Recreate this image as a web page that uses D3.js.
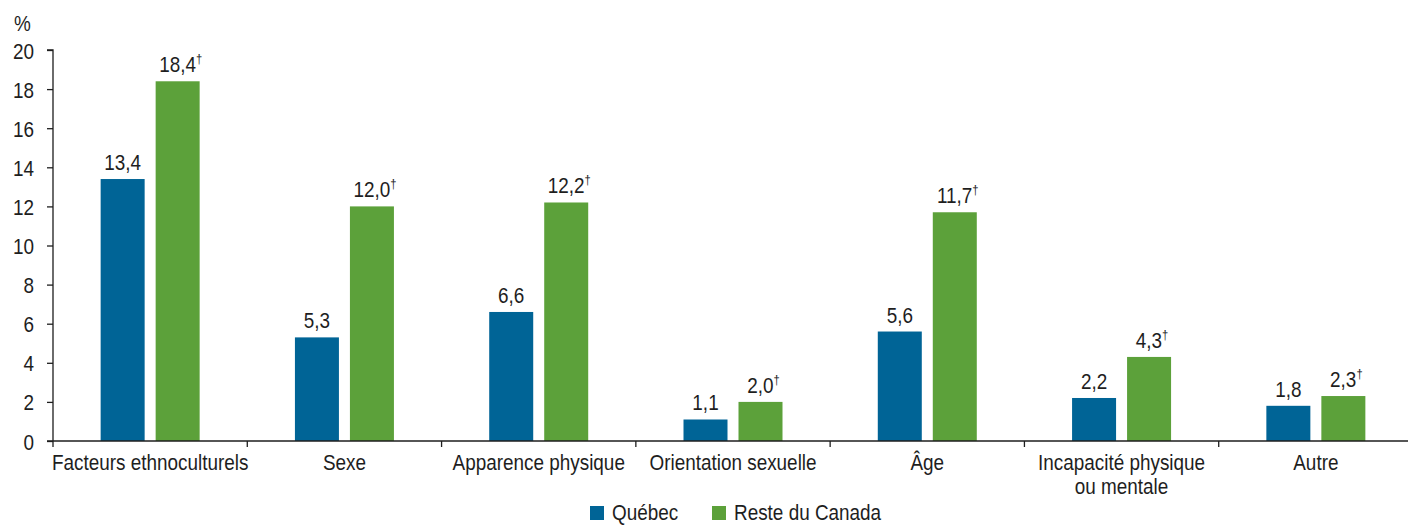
<!DOCTYPE html>
<html>
<head>
<meta charset="utf-8">
<script src="https://cdn.jsdelivr.net/npm/d3@7"></script>
<style>
  body { margin: 0; background: #fff; }
  svg { display: block; }
  text { font-family: "Liberation Sans", Arial, sans-serif; fill: #1e1e1e; }
</style>
</head>
<body>
<svg id="chart" width="1408" height="525"></svg>
<script>
// Categories (one per group, some labels wrap on two lines)
const categories = [
  ["Facteurs ethnoculturels"],
  ["Sexe"],
  ["Apparence physique"],
  ["Orientation sexuelle"],
  ["Âge"],
  ["Incapacité physique", "ou mentale"],
  ["Autre"]
];
const seriesNames = ["Québec", "Reste du Canada"];
const quebec = [13.4, 5.3, 6.6, 1.1, 5.6, 2.2, 1.8];
const resteCanada = [18.4, 12.0, 12.2, 2.0, 11.7, 4.3, 2.3];
// significant difference marker for the second series
const resteFlag = [true, true, true, true, true, true, true];
const yTicks = [0, 2, 4, 6, 8, 10, 12, 14, 16, 18, 20];
const colors = ["#006496", "#5ca13a"];

const FS = 22;      // font size
const SX = 0.86;    // horizontal condensing of the type

const svg = d3.select("#chart");
const x0 = 53, x1 = 1408;
const yTop = 50, yBottom = 441;

const keys = categories.map((c, i) => i);
const x = d3.scaleBand().domain(keys).range([x0, x1 + 5]).paddingInner(0).paddingOuter(0);
const y = d3.scaleLinear().domain([0, 20]).range([yBottom, yTop]);

const barW = 44, gap = 11;
const fmt = v => v.toFixed(1).replace(".", ",");

// condensed text placed at (px, py)
function label(parent, px, py, anchor) {
  return parent.append("text")
    .attr("transform", `translate(${px},${py}) scale(${SX},1)`)
    .attr("text-anchor", anchor || "middle")
    .attr("font-size", FS);
}

// Y axis
const yAxis = svg.append("g").attr("transform", `translate(${x0},0)`)
  .call(d3.axisLeft(y).tickValues(yTicks).tickSize(6).tickFormat(d => d));
yAxis.select(".domain").attr("stroke", "#1e1e1e").attr("stroke-width", 1.3).attr("d", `M-6,${yTop}H0V${yBottom}`);
yAxis.selectAll(".tick line").attr("stroke", "#1e1e1e").attr("stroke-width", 1.3);
yAxis.selectAll(".tick text")
  .attr("x", null).attr("dy", null)
  .attr("transform", `translate(-19,8) scale(${SX},1)`)
  .attr("font-size", FS).attr("fill", "#1e1e1e")
  .style("font-family", "'Liberation Sans', Arial, sans-serif");

label(svg, 14, 31, "start").text("%");

// Bars
const groups = svg.append("g").selectAll("g").data(keys).join("g")
  .attr("transform", d => `translate(${x(d) + x.bandwidth() / 2},0)`);

groups.append("rect")
  .attr("x", -gap / 2 - barW).attr("width", barW)
  .attr("y", d => y(quebec[d])).attr("height", d => y(0) - y(quebec[d]))
  .attr("fill", colors[0]);
groups.append("rect")
  .attr("x", gap / 2).attr("width", barW)
  .attr("y", d => y(resteCanada[d])).attr("height", d => y(0) - y(resteCanada[d]))
  .attr("fill", colors[1]);

// Value labels
groups.each(function (d) {
  const g = d3.select(this);
  label(g, -gap / 2 - barW / 2, y(quebec[d]) - 9).text(fmt(quebec[d]));
  const t = label(g, gap / 2 + barW / 2 + 3, y(resteCanada[d]) - 9);
  t.append("tspan").text(fmt(resteCanada[d]));
  if (resteFlag[d]) t.append("tspan").attr("dy", -9).attr("font-size", 13).text("†");
});

// X axis
const xAxisG = svg.append("g").attr("transform", `translate(0,${yBottom})`);
xAxisG.append("line").attr("x1", x0 - 6).attr("x2", x1).attr("y1", 0).attr("y2", 0)
  .attr("stroke", "#1e1e1e").attr("stroke-width", 1.3);
xAxisG.selectAll("line.tk").data(keys).join("line").attr("class", "tk")
  .attr("x1", d => x(d)).attr("x2", d => x(d)).attr("y1", 0).attr("y2", 6)
  .attr("stroke", "#1e1e1e").attr("stroke-width", 1.3);

keys.forEach(d => {
  categories[d].forEach((line, i) => {
    label(xAxisG, x(d) + x.bandwidth() / 2, 29 + i * 24).text(line);
  });
});

// Legend
const legend = svg.append("g").attr("transform", "translate(590,506)");
const legendX = [0, 122];
seriesNames.forEach((n, i) => {
  const g = legend.append("g").attr("transform", `translate(${legendX[i]},0)`);
  g.append("rect").attr("width", 14).attr("height", 14).attr("fill", colors[i]);
  label(g, 22, 14, "start").text(n);
});
</script>
</body>
</html>
